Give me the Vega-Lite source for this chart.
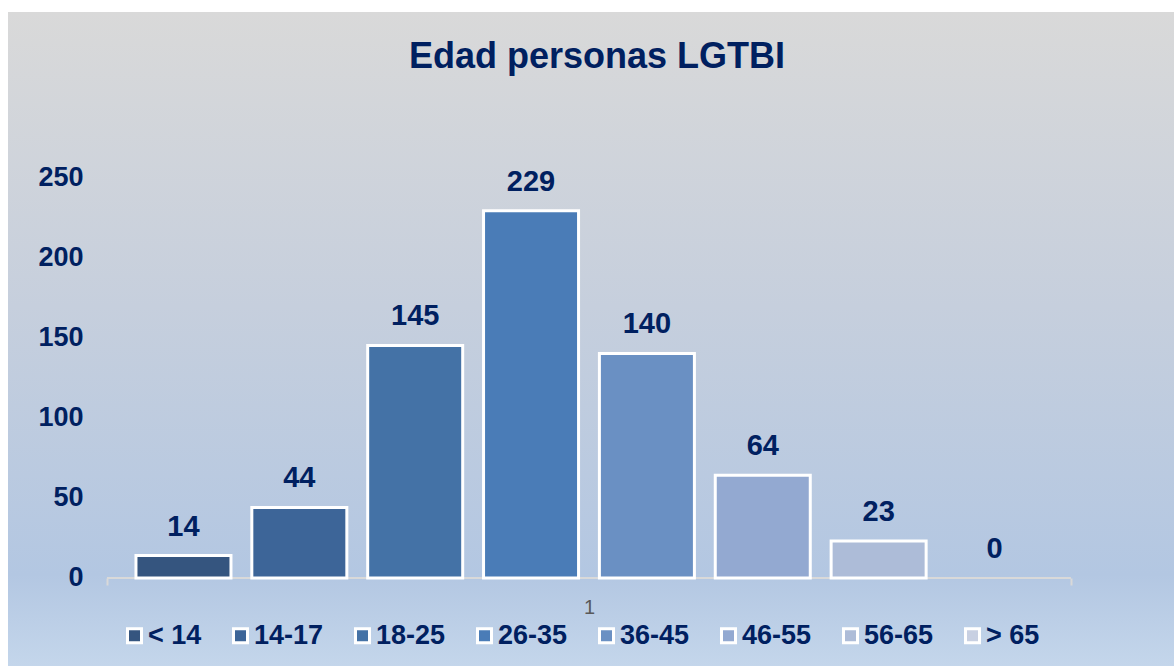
{
  "$schema": "https://vega.github.io/schema/vega-lite/v6.json",
  "width": 1166,
  "height": 654,
  "autosize": {"type": "none"},
  "padding": {"left": 8, "top": 12, "right": 0, "bottom": 0},
  "background": "white",
  "title": {
    "text": "Edad personas LGTBI",
    "fontSize": 36,
    "font": "Liberation Sans",
    "fontWeight": "bold",
    "color": "#002060",
    "anchor": "middle",
    "baseline": "alphabetic",
    "offset": -55,
    "dx": 6,
    "dy": 37
  },
  "config": {
    "font": "Liberation Sans",
    "view": {
      "stroke": null,
      "fill": {
        "gradient": "linear",
        "x1": 0, "y1": 0, "x2": 0, "y2": 1,
        "stops": [
          {"offset": 0, "color": "#d9d9d9"},
          {"offset": 0.45, "color": "#c6cfdd"},
          {"offset": 0.86, "color": "#b3c7e2"},
          {"offset": 1, "color": "#c4d6eb"}
        ]
      }
    }
  },
  "data": {
    "values": [
      {"cat": "1", "grupo": "< 14", "valor": 14},
      {"cat": "1", "grupo": "14-17", "valor": 44},
      {"cat": "1", "grupo": "18-25", "valor": 145},
      {"cat": "1", "grupo": "26-35", "valor": 229},
      {"cat": "1", "grupo": "36-45", "valor": 140},
      {"cat": "1", "grupo": "46-55", "valor": 64},
      {"cat": "1", "grupo": "56-65", "valor": 23},
      {"cat": "1", "grupo": "> 65", "valor": 0}
    ]
  },
  "layer": [
    {
      "data": {"values": [{"cat": "1"}]},
      "mark": {"type": "tick", "orient": "horizontal", "size": 964, "thickness": 2, "color": "#d9d9d9", "opacity": 1},
      "encoding": {
        "x": {
          "field": "cat", "type": "nominal",
          "scale": {"paddingInner": 0, "paddingOuter": 0.1048, "align": 0.49},
          "axis": {
            "orient": "bottom", "offset": -88, "domain": false, "ticks": true,
            "tickBand": "extent", "tickSize": 7, "tickColor": "#d9d9d9", "tickWidth": 2,
            "labelFontSize": 20, "labelColor": "#595959", "labelPadding": 12,
            "labelAngle": 0, "title": null, "grid": false
          }
        },
        "y": {"datum": 0, "type": "quantitative"}
      }
    },
    {
      "mark": {"type": "bar", "stroke": "white", "strokeWidth": 3},
      "encoding": {
        "x": {"field": "cat", "type": "nominal"},
        "xOffset": {
          "field": "grupo", "type": "nominal",
          "sort": ["< 14", "14-17", "18-25", "26-35", "36-45", "46-55", "56-65", "> 65"],
          "scale": {"paddingInner": 0.18, "paddingOuter": 0.25}
        },
        "y": {
          "field": "valor", "type": "quantitative",
          "scale": {"domain": [-54.9, 352.9], "nice": false, "zero": false},
          "axis": {
            "values": [0, 50, 100, 150, 200, 250], "offset": -75, "domain": false,
            "ticks": false, "grid": false, "labelPadding": 0, "labelFontSize": 27,
            "labelFontWeight": "bold", "labelColor": "#002060", "title": null
          }
        },
        "y2": {"datum": 0},
        "color": {
          "field": "grupo", "type": "nominal",
          "scale": {
            "domain": ["< 14", "14-17", "18-25", "26-35", "36-45", "46-55", "56-65", "> 65"],
            "range": ["#35557f", "#3d6598", "#4472a6", "#4a7cb7", "#6a90c3", "#93a9d1", "#adbcd8", "#c8d0e2"]
          },
          "legend": {
            "orient": "none", "legendX": 113, "legendY": 610, "direction": "horizontal",
            "title": null, "symbolType": "square", "symbolSize": 196,
            "symbolStrokeColor": "white", "symbolStrokeWidth": 3, "symbolOpacity": 1,
            "labelFontSize": 27, "labelFontWeight": "bold", "labelColor": "#002060",
            "labelOffset": 0, "columnPadding": 25, "padding": 0
          }
        },
        "strokeOpacity": {"condition": {"test": "datum.valor == 0", "value": 0}, "value": 1}
      }
    },
    {
      "mark": {"type": "text", "baseline": "middle", "dy": -29, "fontSize": 29, "fontWeight": "bold", "color": "#002060"},
      "encoding": {
        "x": {"field": "cat", "type": "nominal"},
        "xOffset": {"field": "grupo", "type": "nominal", "sort": ["< 14", "14-17", "18-25", "26-35", "36-45", "46-55", "56-65", "> 65"]},
        "y": {"field": "valor", "type": "quantitative"},
        "text": {"field": "valor", "type": "quantitative"}
      }
    }
  ]
}
